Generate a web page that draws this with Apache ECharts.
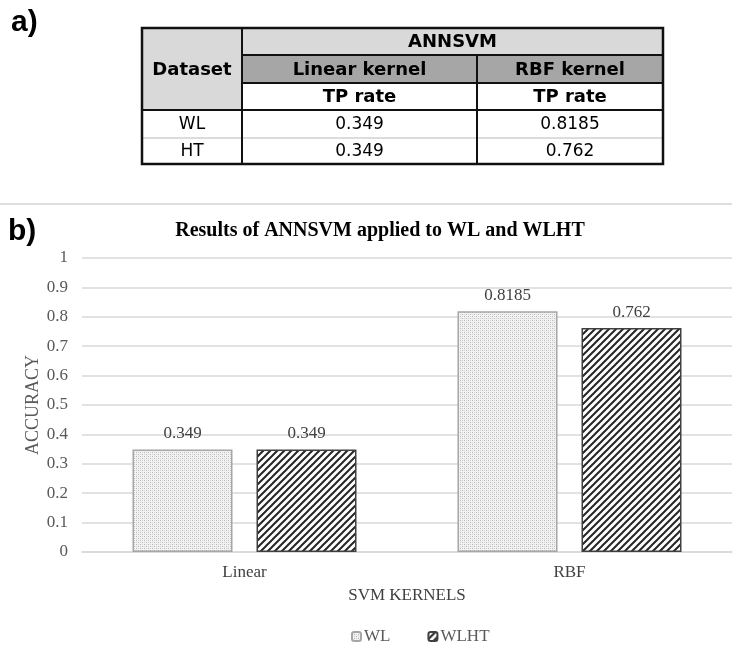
<!DOCTYPE html>
<html>
<head>
<meta charset="utf-8">
<script src="https://cdn.jsdelivr.net/npm/echarts@6/dist/echarts.min.js"></script>
<style>
html,body{margin:0;padding:0;background:#fff;}
#chart{width:737px;height:657px;}
</style>
</head>
<body>
<div id="chart"></div>
<script>
// ---- data ----
const tableGroupHeader = 'ANNSVM';
const tableFirstCol = 'Dataset';
const tableKernels = ['Linear kernel', 'RBF kernel'];
const tableMetric = 'TP rate';
const tableDatasets = ['WL', 'HT'];
const tableLinearTP = ['0.349', '0.349'];
const tableRbfTP = ['0.8185', '0.762'];

const chartTitle = 'Results of ANNSVM applied to WL and WLHT';
const categories = ['Linear', 'RBF'];
const seriesNames = ['WL', 'WLHT'];
const wlValues = [0.349, 0.8185];
const wlhtValues = [0.349, 0.762];
const yTicks = [0, 0.1, 0.2, 0.3, 0.4, 0.5, 0.6, 0.7, 0.8, 0.9, 1];

// ---- patterns ----
function dotPattern() {
  const c = document.createElement('canvas');
  c.width = 4; c.height = 4;
  const g = c.getContext('2d');
  g.fillStyle = '#f2f2f2'; g.fillRect(0, 0, 4, 4);
  g.fillStyle = '#b8b8b8';
  g.fillRect(0, 0, 1, 1); g.fillRect(2, 2, 1, 1);
  g.fillStyle = '#d4d4d4';
  g.fillRect(2, 0, 1, 1); g.fillRect(0, 2, 1, 1);
  return c;
}
function hatchPattern() {
  const s = 7;
  const c = document.createElement('canvas');
  c.width = s; c.height = s;
  const g = c.getContext('2d');
  g.fillStyle = '#ffffff'; g.fillRect(0, 0, s, s);
  g.strokeStyle = '#262626'; g.lineWidth = 2;
  g.beginPath();
  g.moveTo(-1, s + 1); g.lineTo(s + 1, -1);
  g.moveTo(-1, 1); g.lineTo(1, -1);
  g.moveTo(s - 1, s + 1); g.lineTo(s + 1, s - 1);
  g.stroke();
  return c;
}

// ---- table (layout) ----
const colX = [142, 242, 477, 663];
const rowY = [28, 55, 83, 110, 138, 164];
const tFont = '"DejaVu Sans", Verdana, sans-serif';
const graphics = [];
function cellText(x0, x1, y0, y1, txt, bold) {
  graphics.push({
    type: 'text', x: (x0 + x1) / 2, y: (y0 + y1) / 2 + 1,
    style: { text: txt, fill: '#000', font: (bold ? 'bold 18px ' : '17px ') + tFont, textAlign: 'center', textVerticalAlign: 'middle' }
  });
}
function rect(x0, y0, x1, y1, fill) {
  graphics.push({ type: 'rect', shape: { x: x0, y: y0, width: x1 - x0, height: y1 - y0 }, style: { fill: fill } });
}
function line(x0, y0, x1, y1, color, w) {
  graphics.push({ type: 'line', shape: { x1: x0, y1: y0, x2: x1, y2: y1 }, style: { stroke: color, lineWidth: w } });
}
rect(colX[0], rowY[0], colX[1], rowY[3], '#d9d9d9');
rect(colX[1], rowY[0], colX[3], rowY[1], '#d9d9d9');
rect(colX[1], rowY[1], colX[3], rowY[2], '#a6a6a6');
cellText(colX[0], colX[1], rowY[0], rowY[3], tableFirstCol, true);
cellText(colX[1], colX[3], rowY[0], rowY[1], tableGroupHeader, true);
tableKernels.forEach((k, i) => {
  cellText(colX[i + 1], colX[i + 2], rowY[1], rowY[2], k, true);
  cellText(colX[i + 1], colX[i + 2], rowY[2], rowY[3], tableMetric, true);
});
tableDatasets.forEach((d, r) => {
  cellText(colX[0], colX[1], rowY[3 + r], rowY[4 + r], d, false);
  cellText(colX[1], colX[2], rowY[3 + r], rowY[4 + r], tableLinearTP[r], false);
  cellText(colX[2], colX[3], rowY[3 + r], rowY[4 + r], tableRbfTP[r], false);
});
line(colX[0], rowY[4], colX[3], rowY[4], '#d0d0d0', 1.5);
line(colX[1], rowY[1], colX[3], rowY[1], '#111', 2);
line(colX[1], rowY[2], colX[3], rowY[2], '#111', 2);
line(colX[0], rowY[3], colX[3], rowY[3], '#111', 2);
line(colX[1], rowY[0], colX[1], rowY[5], '#111', 2);
line(colX[2], rowY[1], colX[2], rowY[5], '#111', 2);
graphics.push({ type: 'rect', shape: { x: colX[0], y: rowY[0], width: colX[3] - colX[0], height: rowY[5] - rowY[0] }, style: { fill: 'none', stroke: '#111', lineWidth: 2.5 } });

// panel labels & separator
graphics.push({ type: 'text', x: 11, y: 38, style: { text: 'a)', font: 'bold 30px "Liberation Sans", Arial, sans-serif', fill: '#000', textVerticalAlign: 'bottom' } });
graphics.push({ type: 'text', x: 8, y: 247, style: { text: 'b)', font: 'bold 30px "Liberation Sans", Arial, sans-serif', fill: '#000', textVerticalAlign: 'bottom' } });
line(0, 204, 732, 204, '#dedede', 2);

// ---- chart ----
const serif = '"Liberation Serif", "Times New Roman", serif';
const chart = echarts.init(document.getElementById('chart'), null, { renderer: 'canvas' });
chart.setOption({
  animation: false,
  backgroundColor: '#fff',
  title: {
    text: chartTitle, left: 375, top: 216, textAlign: 'center',
    textStyle: { fontFamily: serif, fontWeight: 'bold', fontSize: 20, color: '#000' }
  },
  legend: {
    data: seriesNames, left: 346, top: 623, itemWidth: 9, itemHeight: 9, itemGap: 37,
    textStyle: { fontFamily: serif, fontSize: 17, color: '#595959', padding: [0, 0, 0, -2] }
  },
  grid: { left: 82, right: 5, top: 258, bottom: 105 },
  xAxis: {
    type: 'category', data: categories,
    axisTick: { show: false },
    axisLine: { lineStyle: { color: '#d9d9d9', width: 1.5 } },
    axisLabel: { margin: 12, fontFamily: serif, fontSize: 17, color: '#404040' },
    name: 'SVM KERNELS', nameLocation: 'middle', nameGap: 35, nameMoveOverlap: false,
    nameTextStyle: { fontFamily: serif, fontSize: 17, color: '#404040' }
  },
  yAxis: {
    type: 'value', min: yTicks[0], max: yTicks[yTicks.length - 1], interval: yTicks[1] - yTicks[0],
    axisLine: { show: false }, axisTick: { show: false },
    splitLine: { lineStyle: { color: '#d9d9d9', width: 1.5 } },
    axisLabel: { margin: 14, fontFamily: serif, fontSize: 17, color: '#595959' },
    name: 'ACCURACY', nameLocation: 'middle', nameGap: 40, nameRotate: 90, nameMoveOverlap: false,
    nameTextStyle: { fontFamily: serif, fontSize: 18, color: '#595959' }
  },
  series: [
    {
      name: seriesNames[0], type: 'bar', data: wlValues, barWidth: 100, barGap: '24%',
      itemStyle: { color: { image: dotPattern(), repeat: 'repeat' }, borderColor: '#a6a6a6', borderWidth: 1.5 },
      label: { show: true, position: 'top', distance: 7, fontFamily: serif, fontSize: 17, color: '#404040' }
    },
    {
      name: seriesNames[1], type: 'bar', data: wlhtValues, barWidth: 100, barGap: '24%',
      itemStyle: { color: { image: hatchPattern(), repeat: 'repeat' }, borderColor: '#404040', borderWidth: 1.5 },
      label: { show: true, position: 'top', distance: 7, fontFamily: serif, fontSize: 17, color: '#404040' }
    }
  ],
  graphic: graphics
});
</script>
</body>
</html>
